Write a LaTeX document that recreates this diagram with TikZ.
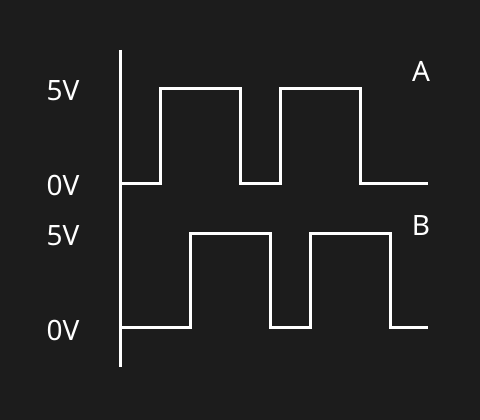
\documentclass[tikz,border=0pt]{standalone}
\usepackage{fontspec}
\setmainfont{Noto Sans}
\definecolor{bgdark}{HTML}{1C1C1C}
\begin{document}
\begin{tikzpicture}[
    x=1pt, y=-1pt,
    wave/.style={draw=white, line width=3pt, line join=miter},
    axis/.style={draw=white, line width=3pt},
    level/.style={text=white, font=\fontsize{28}{30}\selectfont, inner sep=0pt},
    channel/.style={text=white, font=\fontsize{28}{30}\selectfont, inner sep=0pt}
]
  \fill[bgdark] (0,0) rectangle (480,420);
  \useasboundingbox (0,0) rectangle (480,420);
  % --- common time axis ---------------------------------------------------
  \draw[axis] (120,50) -- (120,367);
  % --- channel A: 5V high, 0V low -----------------------------------------
  \node[level] (a5) at (63,91) {5V};
  \node[level] (a0) at (63,185) {0V};
  \node[channel] (chA) at (421,71) {A};
  \draw[wave] (120,183) -- (160,183) -- (160,89) -- (240,89) -- (240,183)
    -- (280,183) -- (280,89) -- (360,89) -- (360,183) -- (428,183);
  % --- channel B: same period, shifted a quarter --------------------------
  \node[level] (b5) at (63,236) {5V};
  \node[level] (b0) at (63,330) {0V};
  \node[channel] (chB) at (421,226) {B};
  \draw[wave] (120,327) -- (190,327) -- (190,233) -- (270,233) -- (270,327)
    -- (310,327) -- (310,233) -- (390,233) -- (390,327) -- (428,327);
\end{tikzpicture}
\end{document}
